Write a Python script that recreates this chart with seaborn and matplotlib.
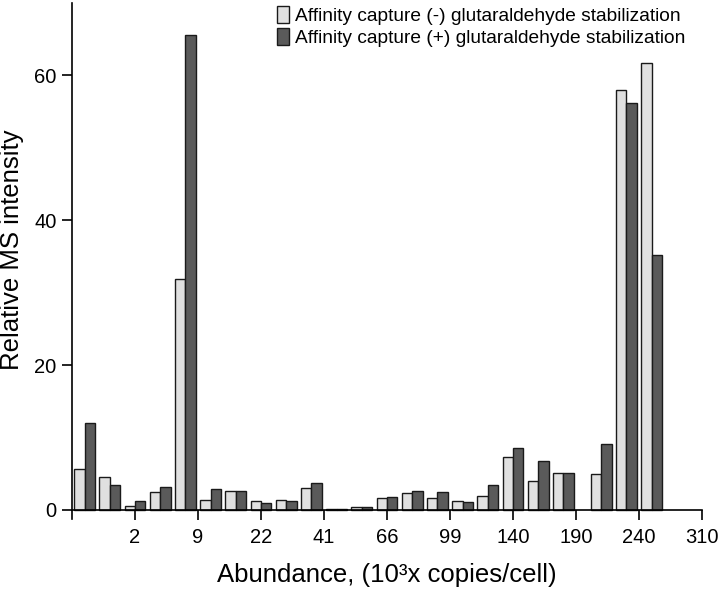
import numpy as np
import pandas as pd
import seaborn as sns
import matplotlib.pyplot as plt

# bin positions along the abundance axis (one empty bin before the last three)
bin_pos = [0, 1, 2, 3, 4, 5, 6, 7, 8, 9, 10, 11, 12, 13, 14, 15, 16, 17, 18, 19,
           20.5, 21.5, 22.5]

# relative MS intensity, without / with glutaraldehyde
minus_ga = [5.7, 4.5, 0.6, 2.5, 31.8, 1.4, 2.6, 1.2, 1.4, 3.0, 0.2, 0.35,
            1.6, 2.4, 1.65, 1.2, 1.9, 7.35, 4.05, 5.15, 4.95, 58.0, 61.6]
plus_ga = [12.0, 3.45, 1.2, 3.2, 65.6, 2.9, 2.55, 0.9, 1.25, 3.7, 0.15, 0.35,
           1.85, 2.6, 2.5, 1.15, 3.5, 8.6, 6.75, 5.15, 9.1, 56.1, 35.2]

tick_pos = [2, 4.5, 7, 9.5, 12, 14.5, 17, 19.5, 22, 24.5]
tick_labels = ["2", "9", "22", "41", "66", "99", "140", "190", "240", "310"]

label_minus = "Affinity capture (-) glutaraldehyde stabilization"
label_plus = "Affinity capture (+) glutaraldehyde stabilization"

df = pd.DataFrame({
    "pos": bin_pos * 2,
    "value": minus_ga + plus_ga,
    "cond": [label_minus] * len(minus_ga) + [label_plus] * len(plus_ga),
})

sns.set_style("ticks")
plt.rcParams['font.family'] = ['Liberation Sans', 'DejaVu Sans']
plt.rcParams['text.color'] = 'black'
plt.rcParams['axes.labelcolor'] = 'black'
plt.rcParams['xtick.color'] = 'black'
plt.rcParams['ytick.color'] = 'black'

fig = plt.figure(figsize=(7.2, 5.94), dpi=100)
ax = fig.add_axes([0.1, 0.1256, 0.875, 0.870])

sns.barplot(data=df, x="pos", y="value", hue="cond", native_scale=True,
            palette=["#e0e0e0", "#5a5a5a"], width=0.83, gap=0,
            edgecolor="#1a1a1a", linewidth=1, errorbar=None, ax=ax)

ax.set_xlim(-0.5, 24.5)
ax.set_ylim(-1.3, 70)
ax.spines['top'].set_visible(False)
ax.spines['right'].set_visible(False)
ax.spines['bottom'].set_position(('data', 0))
for s in ['left', 'bottom']:
    ax.spines[s].set_linewidth(1.2)
    ax.spines[s].set_color('black')

ax.set_xticks(tick_pos)
ax.set_xticklabels(tick_labels)
ax.set_yticks([0, 20, 40, 60])
ax.tick_params(axis='both', length=7.2, width=1.2, labelsize=14.5)
ax.tick_params(axis='x', pad=6)
ax.tick_params(axis='y', pad=4)

ax.set_xlabel("Abundance, (10\u00b3x copies/cell)", fontsize=18.5)
ax.set_ylabel("Relative MS intensity", fontsize=18.5)
ax.xaxis.set_label_coords(0.5, -0.085)
ax.yaxis.set_label_coords(-0.076, 0.521)

handles, labels = ax.get_legend_handles_labels()
ax.legend(handles, labels, loc='upper left', bbox_to_anchor=(0.385, 0.99),
          bbox_transform=fig.transFigure, frameon=False, fontsize=13.8,
          handlelength=0.6, handleheight=1.0, handletextpad=0.35,
          labelspacing=0.15, borderpad=0, borderaxespad=0)

fig.savefig("out.png", dpi=100)
